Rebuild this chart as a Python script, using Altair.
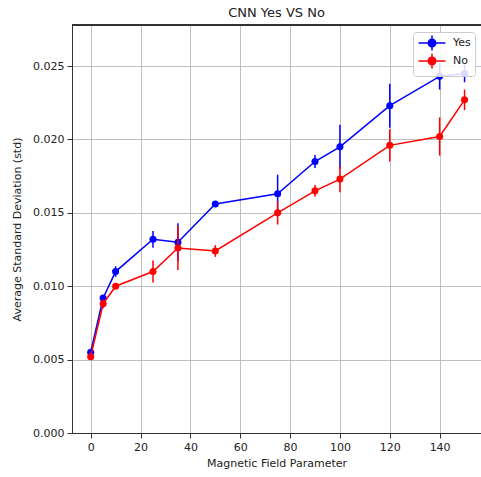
import altair as alt
import pandas as pd

x_vals = [0, 5, 10, 25, 35, 50, 75, 90, 100, 120, 140, 150]
yes_mean = [0.0055, 0.0092, 0.0110, 0.0132, 0.0130, 0.0156, 0.0163, 0.0185, 0.0195, 0.0223, 0.0243, 0.0245]
yes_err = [0.0002, 0.0002, 0.00036, 0.00057, 0.0013, 0.0001, 0.0013, 0.00045, 0.0015, 0.0015, 0.0009, 0.0006]
no_mean = [0.0052, 0.0088, 0.0100, 0.0110, 0.0126, 0.0124, 0.0150, 0.0165, 0.0173, 0.0196, 0.0202, 0.0227]
no_err = [0.0002, 0.0003, 0.0002, 0.00075, 0.0015, 0.0004, 0.0008, 0.0004, 0.0009, 0.0011, 0.0013, 0.0007]
series_names = ["Yes", "No"]
series_colors = ["#0000ff", "#ff0000"]

rows = []
for name, means, errs in [("Yes", yes_mean, yes_err), ("No", no_mean, no_err)]:
    for xv, m, e in zip(x_vals, means, errs):
        rows.append({"x": xv, "y": m, "lo": m - e, "hi": m + e, "series": name})
df = pd.DataFrame(rows)

font = "DejaVu Sans"
W, H = 409, 408

xscale = alt.Scale(domain=[-7.5, 156.6], nice=False, zero=False)
yscale = alt.Scale(domain=[0, 0.0278], nice=False, zero=False)

legend_path = ("M-2.25,0H2.25M0,-1.25V1.25"
               "M0.63,0A0.63,0.63,0,1,1,-0.63,0A0.63,0.63,0,1,1,0.63,0Z")
legend = alt.Legend(
    title=None, orient="none", legendX=341, legendY=7,
    symbolType=legend_path, symbolSize=144, symbolStrokeWidth=1.5,
    symbolOpacity=1, symbolOffset=8,
    labelFont=font, labelFontSize=11, labelColor="#222",
    fillColor="rgba(255,255,255,0.85)", strokeColor="#cccccc",
    padding=4, cornerRadius=3, rowPadding=-4, labelOffset=14,
)
cscale = alt.Scale(domain=series_names, range=series_colors)
fill_enc = alt.Fill("series:N", scale=cscale, legend=legend)
stroke_enc = alt.Stroke("series:N", scale=cscale, legend=legend)

xaxis = alt.Axis(values=[0, 20, 40, 60, 80, 100, 120, 140], title="Magnetic Field Parameter",
                 grid=True, gridColor="#b0b0b0", gridWidth=0.8,
                 domainColor="#333", tickColor="#333", tickSize=5, labelPadding=3,
                 labelFont=font, labelFontSize=11, labelColor="#222",
                 titleFont=font, titleFontSize=11, titleColor="#222", titleFontWeight="normal", titlePadding=5)
yaxis = alt.Axis(values=[0, 0.005, 0.01, 0.015, 0.02, 0.025], format=".3f",
                 title="Average Standard Deviation (std)",
                 grid=True, gridColor="#b0b0b0", gridWidth=0.8,
                 domainColor="#333", tickColor="#333", tickSize=5, labelPadding=3,
                 labelFont=font, labelFontSize=11, labelColor="#222",
                 titleFont=font, titleFontSize=11, titleColor="#222", titleFontWeight="normal", titlePadding=10)

layers = []
for i, name in enumerate(series_names):
    sub = alt.Chart(df).transform_filter(alt.datum.series == name)
    err = sub.mark_rule(strokeWidth=1.5).encode(
        x=alt.X("x:Q", scale=xscale, axis=xaxis),
        y=alt.Y("lo:Q", scale=yscale, axis=yaxis),
        y2="hi:Q",
        stroke=stroke_enc,
    )
    line = sub.mark_line(strokeWidth=1.5).encode(
        x=alt.X("x:Q", scale=xscale, axis=xaxis),
        y=alt.Y("y:Q", scale=yscale, axis=yaxis),
        stroke=stroke_enc,
    )
    pts = sub.mark_point(size=50, opacity=1, filled=True, strokeWidth=0).encode(
        x=alt.X("x:Q", scale=xscale, axis=xaxis),
        y=alt.Y("y:Q", scale=yscale, axis=yaxis),
        fill=fill_enc,
    )
    layers += [err, line, pts]

top = alt.Chart(df).mark_rule(color="#333", strokeWidth=1).encode(
    x=alt.value(0), x2=alt.value(W), y=alt.value(0))
layers.append(top)

chart = alt.layer(*layers).properties(
    width=W, height=H,
    title=alt.TitleParams("CNN Yes VS No", font=font, fontSize=13, fontWeight="normal",
                          color="#222", offset=5),
    autosize=alt.AutoSizeParams(type="none"),
    padding={"left": 72, "top": 25, "right": 0, "bottom": 44},
).configure_view(stroke=None).configure(background="white")

chart.save("out.html", embed_options={"renderer": "svg", "actions": False})
